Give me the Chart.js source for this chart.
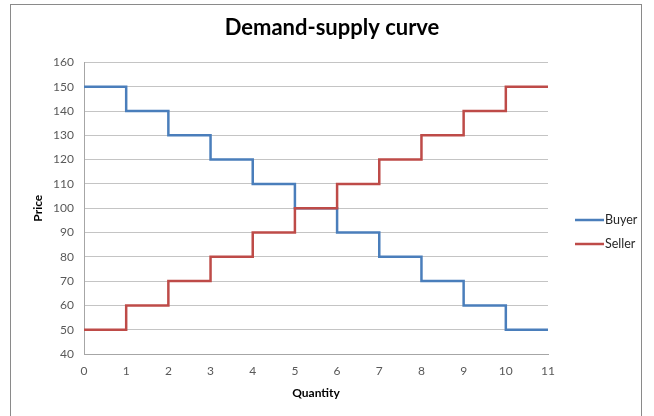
<!DOCTYPE html>
<html>
<head>
<meta charset="utf-8">
<script src="https://cdn.jsdelivr.net/npm/chart.js@4/dist/chart.umd.min.js"></script>
<style>
  html, body { margin: 0; padding: 0; background: #fff; overflow: hidden; }
  #wrap { position: relative; width: 654px; height: 416px; }
  #frame { position: absolute; left: 10px; top: 4px; width: 632px; height: 430px;
           border: 1px solid #8a8a8a; box-sizing: border-box; pointer-events: none; }
  canvas { position: absolute; left: 0; top: 0; }
</style>
</head>
<body>
<div id="wrap">
  <canvas id="chart" width="654" height="416"></canvas>
  <div id="frame"></div>
</div>
<script>
// Quantity steps and the price each side offers at that step
const quantities   = [0, 1, 2, 3, 4, 5, 6, 7, 8, 9, 10, 11];
const buyerPrices  = [150, 140, 130, 120, 110, 100, 90, 80, 70, 60, 50, 50];
const sellerPrices = [50, 60, 70, 80, 90, 100, 110, 120, 130, 140, 150, 150];
const seriesNames  = ['Buyer', 'Seller'];
const chartTitle   = 'Demand-supply curve';
const xTitle = 'Quantity';
const yTitle = 'Price';

const BLUE = '#4a7ebb';
const RED  = '#be4b48';
const FONT = 'Lato, "Open Sans", sans-serif';

const toPoints = (ys) => quantities.map((q, i) => ({ x: q, y: ys[i] }));

// Legend drawn beside the plot, one line swatch per series
const sideLegend = {
  id: 'sideLegend',
  afterDraw(chart) {
    const ctx = chart.ctx;
    const rows = [220, 244];
    ctx.save();
    ctx.font = '12.5px ' + FONT;
    ctx.textBaseline = 'middle';
    ctx.textAlign = 'left';
    chart.data.datasets.forEach((ds, i) => {
      const y = rows[i];
      ctx.strokeStyle = ds.borderColor;
      ctx.lineWidth = 2.5;
      ctx.beginPath();
      ctx.moveTo(575, y);
      ctx.lineTo(604, y);
      ctx.stroke();
      ctx.fillStyle = '#262626';
      ctx.fillText(ds.label, 605, y);
    });
    ctx.restore();
  }
};

new Chart(document.getElementById('chart'), {
  type: 'line',
  data: {
    datasets: [
      { label: seriesNames[0], data: toPoints(buyerPrices), borderColor: BLUE,
        backgroundColor: BLUE, borderWidth: 2.5, pointRadius: 0, stepped: true, order: 2 },
      { label: seriesNames[1], data: toPoints(sellerPrices), borderColor: RED,
        backgroundColor: RED, borderWidth: 2.5, pointRadius: 0, stepped: true, order: 1 }
    ]
  },
  plugins: [sideLegend],
  options: {
    responsive: false,
    animation: false,
    events: [],
    layout: { padding: { left: 10, right: 0, top: 0, bottom: 0 } },
    plugins: {
      legend: { display: false },
      tooltip: { enabled: false },
      title: {
        display: true,
        text: chartTitle,
        color: '#000',
        font: { family: FONT, size: 22, weight: 'bold', lineHeight: 1.2 },
        padding: { top: 15, bottom: 21 }
      }
    },
    scales: {
      x: {
        type: 'linear',
        min: 0, max: 11,
        ticks: { stepSize: 1, padding: 10, color: '#595959',
                 font: { family: FONT, size: 12 } },
        grid: { display: false, drawTicks: false },
        border: { display: true, color: '#a6a6a6', width: 1 },
        title: { display: true, text: xTitle, color: '#000',
                 font: { family: FONT, size: 12, weight: 'bold', lineHeight: 1.2 },
                 padding: { top: 0, bottom: 16 } },
        afterFit(scale) { scale.height = 62; }
      },
      y: {
        min: 40, max: 160,
        ticks: { stepSize: 10, padding: 10, color: '#595959',
                 font: { family: FONT, size: 12 } },
        grid: { color: '#c4c4c4', lineWidth: 1, drawTicks: false },
        border: { display: true, color: '#a6a6a6', width: 1 },
        title: { display: true, text: yTitle, color: '#000',
                 font: { family: FONT, size: 12, weight: 'bold', lineHeight: 1.2 },
                 padding: { top: 21, bottom: 0 } },
        afterFit(scale) { scale.width = 74; }
      },
      // empty right-hand axis that reserves the legend column
      legendSpace: {
        type: 'linear',
        position: 'right',
        display: true,
        ticks: { display: false },
        grid: { display: false, drawTicks: false },
        border: { display: false },
        afterFit(scale) { scale.width = 106; }
      }
    }
  }
});
</script>
</body>
</html>
